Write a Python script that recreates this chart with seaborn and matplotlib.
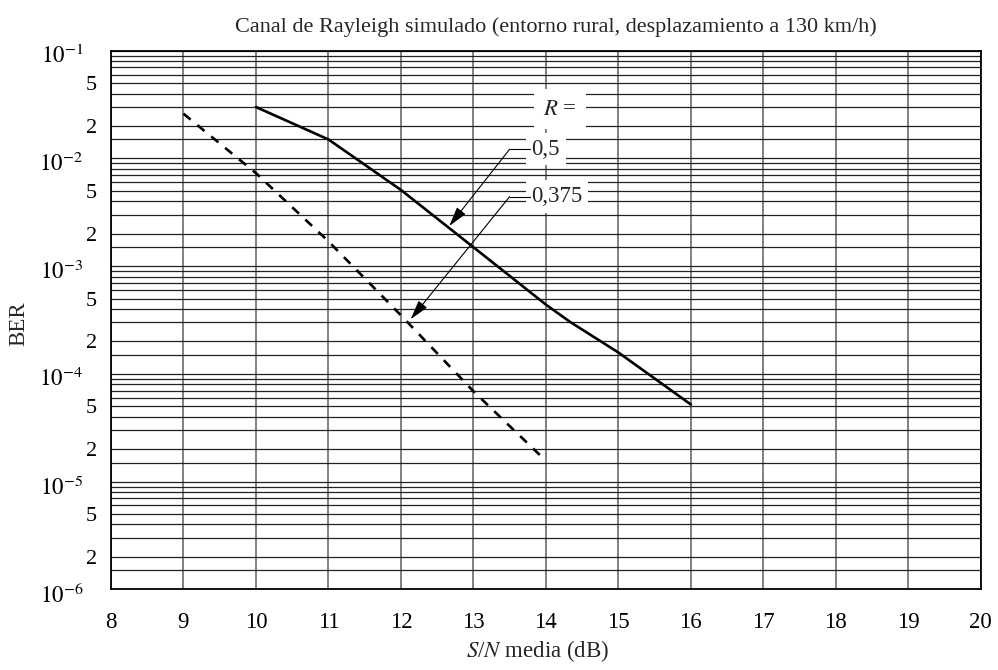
import numpy as np
import pandas as pd
import matplotlib
matplotlib.use("Agg")
import matplotlib.pyplot as plt
import matplotlib.ticker as mticker
import matplotlib.transforms as mtransforms
import seaborn as sns

# ---- data ----
snr_05 = [10, 11, 12, 13, 14, 14.33, 15, 16]
ber_05 = [3.0e-2, 1.5e-2, 5.1e-3, 1.5e-3, 4.4e-4, 3.05e-4, 1.58e-4, 5.2e-5]
snr_0375 = [9, 10, 11, 12, 13, 14]
ber_0375 = [2.6e-2, 7.3e-3, 1.7e-3, 3.5e-4, 6.9e-5, 1.56e-5]
x_ticks = list(range(8, 21))
decades = [1e-6, 1e-5, 1e-4, 1e-3, 1e-2, 1e-1]
decade_labels = [r"$10^{-6}$", r"$10^{-5}$", r"$10^{-4}$", r"$10^{-3}$", r"$10^{-2}$", r"$10^{-1}$"]
minor_mantissas = [1.5, 2, 3, 4, 5, 6, 7, 8, 9]
labelled_mantissas = {2: "2", 5: "5"}

title = "Canal de Rayleigh simulado (entorno rural, desplazamiento a 130 km/h)"

sns.set_theme(style="white")
plt.rcParams["font.family"] = ["Liberation Serif", "DejaVu Serif"]
plt.rcParams["mathtext.fontset"] = "stix"

df05 = pd.DataFrame({"snr": snr_05, "ber": ber_05})
df0375 = pd.DataFrame({"snr": snr_0375, "ber": ber_0375})

fig = plt.figure(figsize=(9.98, 6.70), dpi=100)
W, H = 998, 670
ax = fig.add_axes([111 / W, (H - 589.3) / H, (980.7 - 111) / W, (589.3 - 50.7) / H])

ax.set_yscale("log")
ax.set_xlim(8, 20)
ax.set_ylim(1e-6, 1e-1)

# grid
minor_pos = [m * d for d in decades[:-1] for m in minor_mantissas]
ax.yaxis.set_major_locator(mticker.FixedLocator(decades))
ax.yaxis.set_major_formatter(mticker.FixedFormatter(decade_labels))
ax.yaxis.set_minor_locator(mticker.FixedLocator(minor_pos))

def minor_fmt(v, pos):
    e = np.floor(np.log10(v) + 1e-9)
    m = round(v / 10 ** e, 2)
    return labelled_mantissas.get(m, "")

ax.yaxis.set_minor_formatter(mticker.FuncFormatter(minor_fmt))
ax.set_xticks(x_ticks)
ax.set_xticklabels([str(t) for t in x_ticks])

ax.grid(True, which="both", axis="y", color="#222222", lw=0.9)
ax.grid(True, which="major", axis="x", color="#777777", lw=1.3)
ax.set_axisbelow(True)

ax.tick_params(axis="both", which="both", length=0, labelsize=16, colors="black")
ax.tick_params(axis="y", which="major", pad=20, labelsize=16.5)
ax.tick_params(axis="y", which="minor", pad=10)
ax.tick_params(axis="x", which="major", pad=16, labelsize=16.5)
shift = mtransforms.ScaledTranslation(0, -6 / 100, fig.dpi_scale_trans)
for lbl in ax.get_yticklabels(which="major"):
    lbl.set_va("center")
    lbl.set_transform(lbl.get_transform() + shift)

for s in ax.spines.values():
    s.set_color("black")
    s.set_linewidth(1.3)

# curves
sns.lineplot(data=df05, x="snr", y="ber", ax=ax, color="black", lw=1.9, estimator=None)
sns.lineplot(data=df0375, x="snr", y="ber", ax=ax, color="black", lw=1.9, estimator=None,
             dashes=False, linestyle=(0, (3.5, 3.3)))

# annotations
box = dict(boxstyle="square,pad=0.25", fc="white", ec="none")
ax.text(14.19, 10 ** -1.542, r"$R$ =", fontsize=16.5, ha="center", va="center",
        bbox=dict(boxstyle="square,pad=0.4", fc="white", ec="none"), zorder=5)
ax.text(13.80, 10 ** -1.915, "0,5", fontsize=16.5, ha="left", va="center", bbox=box, zorder=5)
ax.text(13.80, 10 ** -2.355, "0,375", fontsize=16.5, ha="left", va="center", bbox=box, zorder=5)

aprops = dict(arrowstyle="-|>,head_length=1.0,head_width=0.28", mutation_scale=12,
              color="black", lw=0.8, shrinkA=0, shrinkB=0)
# 0,5 leader
ax.plot([13.50, 13.78], [10 ** -1.915, 10 ** -1.915], color="black", lw=0.8, zorder=6)
ax.annotate("", xy=(12.668, 10 ** -2.627), xytext=(13.50, 10 ** -1.915), arrowprops=aprops, zorder=6)
# 0,375 leader
ax.plot([13.50, 13.78], [10 ** -2.355, 10 ** -2.355], color="black", lw=0.8, zorder=6)
ax.annotate("", xy=(12.135, 10 ** -3.493), xytext=(13.50, 10 ** -2.355), arrowprops=aprops, zorder=6)

ax.set_xlabel(r"$S$/$N$ media (dB)", fontsize=16.5)
ax.xaxis.set_label_coords((538 - 111) / 869.7, (589.3 - 651) / 538.6)
ax.xaxis.label.set_va("center")
ax.set_ylabel("BER", fontsize=16.5)
ax.yaxis.set_label_coords((19 - 111) / 869.7, (589.3 - 324) / 538.6)
ax.yaxis.label.set_va("center")
fig.text(556 / W, 1 - 27 / H, title, fontsize=16, ha="center", va="center")

fig.savefig("out.png", dpi=100)
